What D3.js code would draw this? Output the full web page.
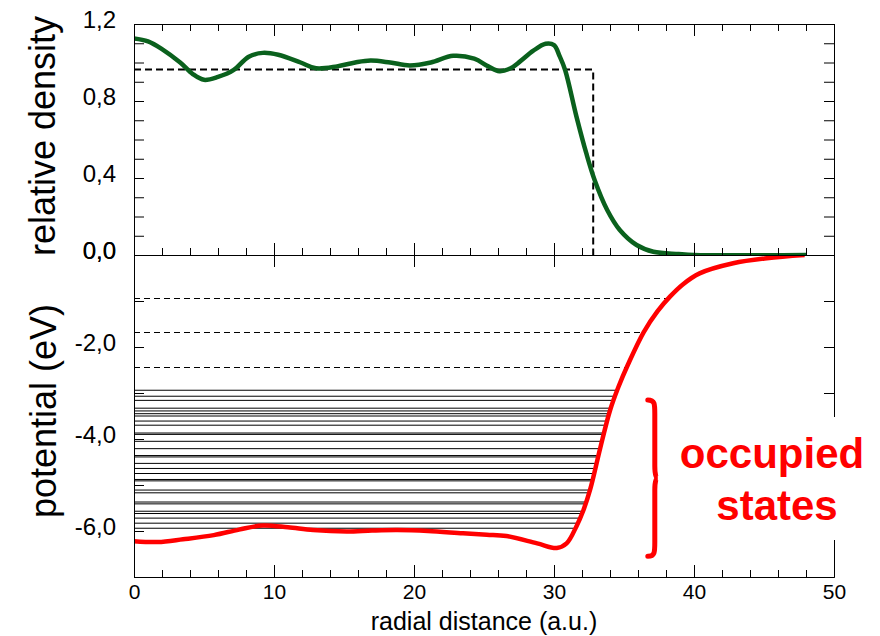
<!DOCTYPE html>
<html>
<head>
<meta charset="utf-8">
<script src="https://cdn.jsdelivr.net/npm/d3@7"></script>
<style>
  body { margin: 0; background: #fff; }
  svg { font-family: "Liberation Sans", Arial, Helvetica, sans-serif; }
</style>
</head>
<body>
<div id="chart"></div>
<script>
//Data
//top panel: relative density vs radial distance
const densityR = [0, 1, 2, 3.3, 4.2, 5.0, 6, 7.1, 8.2, 9.2, 10.3, 11.9, 13, 14.5, 15.8, 16.9, 18.3, 19.7, 21.2, 22.8, 24.3, 25.3, 26.1, 26.9, 27.6, 28.5, 29.4, 30.0, 30.4, 30.8, 31.6, 32.3, 32.9, 33.8, 34.7, 35.9, 37.1, 38.9, 40, 48];
const densityVal = [1.125, 1.11, 1.07, 1.0, 0.94, 0.91, 0.925, 0.96, 1.03, 1.05, 1.04, 1.0, 0.97, 0.98, 1.0, 1.01, 1.0, 0.985, 1.0, 1.035, 1.02, 0.98, 0.955, 0.97, 1.007, 1.06, 1.097, 1.09, 1.033, 0.96, 0.72, 0.53, 0.39, 0.234, 0.13, 0.052, 0.017, 0.005, 0, 0];
//jellium step density (dashed)
const stepR = [0, 32.8, 32.8];
const stepVal = [0.963, 0.963, 0];

//bottom panel: potential (eV) vs radial distance
const potentialR = [0, 1.7, 3.5, 5.7, 7.5, 9.2, 11, 12.8, 15.2, 17, 18.8, 21, 23.5, 25.2, 26.6, 28.8, 30.2, 30.9, 31.6, 32.1, 32.6, 33.3, 34.0, 34.6, 35.3, 36.4, 37.4, 38.3, 39.2, 40.4, 42.8, 45.2, 47.9];
const potentialVal = [-6.22, -6.24, -6.18, -6.09, -5.97, -5.88, -5.92, -5.98, -6.01, -5.99, -5.98, -6.0, -6.05, -6.08, -6.11, -6.27, -6.37, -6.27, -5.9, -5.55, -5.08, -4.2, -3.38, -2.87, -2.37, -1.68, -1.22, -0.9, -0.64, -0.40, -0.18, -0.07, 0];

//occupied levels (solid) and empty levels (dashed), eV
const occupiedLevels = [-2.94, -3.07, -3.16, -3.33, -3.39, -3.45, -3.50, -3.61, -3.70, -3.87, -3.90, -4.05, -4.21, -4.36, -4.39, -4.53, -4.64, -4.75, -4.88, -4.91, -5.11, -5.17, -5.37, -5.41, -5.57, -5.62, -5.72, -5.83, -5.94];
const emptyLevels = [-0.93, -1.68, -2.43];

//ticks
const xTickValues = [0, 10, 20, 30, 40, 50];
const xTickLabels = ['0', '10', '20', '30', '40', '50'];
const densityTickValues = [0, 0.4, 0.8, 1.2];
const densityTickLabels = ['0,0', '0,4', '0,8', '1,2'];
const potentialTickValues = [0, -2, -4, -6];
const potentialTickLabels = ['0,0', '-2,0', '-4,0', '-6,0'];

const bracketLevels = [-3.15, -6.55];
const annotationLines = ['occupied', 'states'];

//Layout
const W = 880, H = 636;
const mLeft = 134, mRight = 834, mTop = 24, mMid = 255, mBottom = 577;

const svg = d3.select('#chart').append('svg')
	.attr('width', W).attr('height', H);

const x = d3.scaleLinear().domain([0, 50]).range([mLeft, mRight]);
const yD = d3.scaleLinear().domain([0, 1.2]).range([mMid, mTop]);
const yP = d3.scaleLinear().domain([-7, 0]).range([mBottom, mMid]);

const green = '#0a611d';
const red = '#ff0000';

function labelFrom(values, labels){
	return d => {
		const i = values.findIndex(v => Math.abs(v - d) < 1e-6);
		return i >= 0 ? labels[i] : '';
	};
}

function style(g, size){
	g.attr('font-family', null).attr('font-size', size);
	g.selectAll('.tick line').attr('stroke', '#000');
	g.select('.domain').attr('stroke', '#000');
	return g;
}

//clip paths
const defs = svg.append('defs');
defs.append('clipPath').attr('id', 'clip-top')
	.append('rect').attr('x', mLeft).attr('y', mTop).attr('width', mRight - mLeft).attr('height', mMid - mTop);
defs.append('clipPath').attr('id', 'clip-bottom')
	.append('rect').attr('x', mLeft).attr('y', mMid).attr('width', mRight - mLeft).attr('height', mBottom - mMid);

//Bottom panel data
const bottomG = svg.append('g').attr('clip-path', 'url(#clip-bottom)');

//find where a level meets the rising branch of the potential
const iMin = potentialVal.indexOf(d3.min(potentialVal));
function turningPoint(E){
	for(let i = iMin; i < potentialVal.length - 1; i++){
		const a = potentialVal[i], b = potentialVal[i + 1];
		if(a <= E && b >= E){
			return potentialR[i] + (E - a) / (b - a) * (potentialR[i + 1] - potentialR[i]);
		}
	}
	return potentialR[potentialR.length - 1];
}

bottomG.selectAll('.occ')
	.data(occupiedLevels)
	.enter().append('line').attr('class', 'occ')
	.attr('x1', x(0)).attr('x2', d => x(turningPoint(d)))
	.attr('y1', d => yP(d)).attr('y2', d => yP(d))
	.attr('stroke', '#000').attr('stroke-width', 1);

bottomG.selectAll('.empty')
	.data(emptyLevels)
	.enter().append('line').attr('class', 'empty')
	.attr('x1', x(0)).attr('x2', d => x(turningPoint(d)))
	.attr('y1', d => Math.round(yP(d)) + 0.5).attr('y2', d => Math.round(yP(d)) + 0.5)
	.attr('stroke', '#000').attr('stroke-width', 1)
	.attr('stroke-dasharray', '6,4');

const potLine = d3.line()
	.x((d, i) => x(potentialR[i]))
	.y(d => yP(d))
	.curve(d3.curveCatmullRom.alpha(0.5));

bottomG.append('path')
	.datum(potentialVal)
	.attr('d', potLine)
	.attr('fill', 'none')
	.attr('stroke', red)
	.attr('stroke-width', 4.5);

//Top panel data
const topG = svg.append('g').attr('clip-path', 'url(#clip-top)');

const stepLine = d3.line()
	.x((d, i) => x(stepR[i]))
	.y(d => yD(d));

topG.append('path')
	.datum(stepVal)
	.attr('d', stepLine)
	.attr('fill', 'none')
	.attr('stroke', '#000')
	.attr('stroke-width', 2)
	.attr('stroke-dasharray', '7,4');

const densLine = d3.line()
	.x((d, i) => x(densityR[i]))
	.y(d => yD(d))
	.curve(d3.curveCatmullRom.alpha(0.5));

topG.append('path')
	.datum(densityVal)
	.attr('d', densLine)
	.attr('fill', 'none')
	.attr('stroke', green)
	.attr('stroke-width', 4.5);

//Axes
const minorX = d3.range(0, 51, 2);
const densTicks = d3.range(13).map(i => i / 10);
const potTicks = d3.range(-7, 1, 1);

//top panel
svg.append('g').attr('transform', `translate(${mLeft},0)`)
	.call(d3.axisLeft(yD).tickValues(densTicks).tickSizeInner(-10).tickSizeOuter(0).tickPadding(18)
		.tickFormat(labelFrom(densityTickValues, densityTickLabels)))
	.call(g => style(g, 24))
	.call(g => g.selectAll('text').attr('dy', '0.15em'));
svg.append('g').attr('transform', `translate(${mRight},0)`)
	.call(d3.axisRight(yD).tickValues(densTicks).tickSizeInner(-10).tickSizeOuter(0).tickFormat(''))
	.call(g => style(g, 24));
svg.append('g').attr('transform', `translate(0,${mTop})`)
	.call(d3.axisTop(x).tickValues(minorX).tickSizeInner(-7).tickSizeOuter(0).tickFormat(''))
	.call(g => style(g, 24));
svg.append('g').attr('transform', `translate(0,${mTop})`)
	.call(d3.axisTop(x).tickValues(xTickValues).tickSizeInner(-12).tickSizeOuter(0).tickFormat(''))
	.call(g => style(g, 24));
svg.append('g').attr('transform', `translate(0,${mMid})`)
	.call(d3.axisBottom(x).tickValues(minorX).tickSizeInner(-7).tickSizeOuter(0).tickFormat(''))
	.call(g => style(g, 24));
svg.append('g').attr('transform', `translate(0,${mMid})`)
	.call(d3.axisBottom(x).tickValues(xTickValues).tickSizeInner(-12).tickSizeOuter(0).tickFormat(''))
	.call(g => style(g, 24));
svg.append('g').attr('transform', `translate(0,${mMid})`)
	.call(d3.axisBottom(x).tickValues(xTickValues).tickSizeInner(12).tickSizeOuter(0).tickFormat(''))
	.call(g => style(g, 24));

//bottom panel
svg.append('g').attr('transform', `translate(${mLeft},0)`)
	.call(d3.axisLeft(yP).tickValues(potTicks).tickSizeInner(-10).tickSizeOuter(0).tickPadding(18)
		.tickFormat(labelFrom(potentialTickValues, potentialTickLabels)))
	.call(g => style(g, 24))
	.call(g => g.selectAll('text').attr('dy', '0.15em'));
svg.append('g').attr('transform', `translate(${mRight},0)`)
	.call(d3.axisRight(yP).tickValues(potTicks).tickSizeInner(-10).tickSizeOuter(0).tickFormat(''))
	.call(g => style(g, 24));
svg.append('g').attr('transform', `translate(0,${mBottom})`)
	.call(d3.axisBottom(x).tickValues(minorX).tickSizeInner(-7).tickSizeOuter(0).tickFormat(''))
	.call(g => style(g, 24));
svg.append('g').attr('transform', `translate(0,${mBottom})`)
	.call(d3.axisBottom(x).tickValues(xTickValues).tickSizeInner(-12).tickSizeOuter(0).tickPadding(7)
		.tickFormat(labelFrom(xTickValues, xTickLabels)))
	.call(g => style(g, 21));

//Axis titles
svg.append('text')
	.attr('transform', `translate(55,136) rotate(-90)`)
	.attr('text-anchor', 'middle')
	.attr('font-size', 36)
	.text('relative density');
svg.append('text')
	.attr('transform', `translate(56,411) rotate(-90)`)
	.attr('text-anchor', 'middle')
	.attr('font-size', 36)
	.text('potential (eV)');
svg.append('text')
	.attr('x', x(25)).attr('y', 630)
	.attr('text-anchor', 'middle')
	.attr('font-size', 25)
	.text('radial distance (a.u.)');

//Annotation: brace + label
const bx = x(36.7);
const b1 = yP(bracketLevels[0]), b2 = yP(bracketLevels[1]);
const bm = (b1 + b2) / 2;
svg.append('path')
	.attr('d', `M${bx},${b1} C${bx + 7},${b1} ${bx + 7},${b1 + 4} ${bx + 7},${b1 + 14}
		L${bx + 7},${bm - 12} C${bx + 7},${bm - 4} ${bx + 8},${bm} ${bx + 10},${bm}
		C${bx + 8},${bm} ${bx + 7},${bm + 4} ${bx + 7},${bm + 12}
		L${bx + 7},${b2 - 14} C${bx + 7},${b2 - 4} ${bx + 7},${b2} ${bx},${b2}`)
	.attr('fill', 'none')
	.attr('stroke', red)
	.attr('stroke-width', 5)
	.attr('stroke-linecap', 'round');

const annot = svg.append('g');
const annotBg = annot.append('rect').attr('fill', '#fff');
const annotText = annot.append('g')
	.attr('fill', red)
	.attr('font-weight', 'bold')
	.attr('font-size', 42)
	.attr('text-anchor', 'middle');
annotText.selectAll('text')
	.data(annotationLines)
	.enter().append('text')
	.attr('x', (d, i) => i === 0 ? 772 : 777)
	.attr('y', (d, i) => 468 + i * 52)
	.text(d => d);
const bb = annotText.node().getBBox();
annotBg.attr('x', bb.x - 8).attr('y', bb.y - 13)
	.attr('width', bb.width + 16).attr('height', bb.height + 24);
</script>
</body>
</html>
